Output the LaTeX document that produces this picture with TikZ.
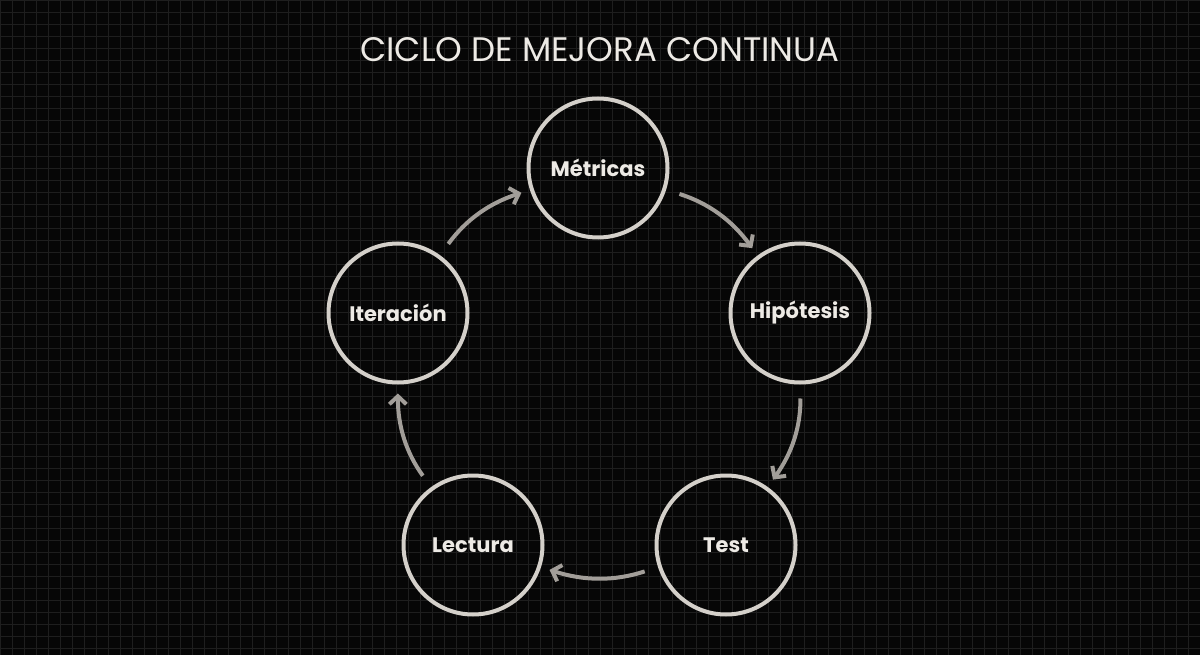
\documentclass[tikz,border=0pt]{standalone}
\usepackage{fontspec}
\setmainfont{Poppins}
\usetikzlibrary{arrows.meta}
\definecolor{bg}{HTML}{060606}
\definecolor{gridc}{HTML}{1E1E1E}
\definecolor{ring}{HTML}{D4D0CA}
\definecolor{arr}{HTML}{A29E99}
\definecolor{txt}{HTML}{EDEAE5}
\tikzset{
 stage/.style={circle,draw=ring,line width=4pt,minimum size=139pt,inner sep=0pt,text=txt,font=\fontsize{21}{24}\selectfont\bfseries},
 flow/.style={draw=arr,line width=4pt,-{Straight Barb[length=8pt,width=17pt,line width=4pt]},shorten <=14pt,shorten >=9pt}
}
\begin{document}
\begin{tikzpicture}[x=1pt,y=-1pt]
\fill[bg] (0,0) rectangle (1200,655);
\useasboundingbox (0,0) rectangle (1200,655);
\draw[gridc,line width=0.6pt,step=12pt] (0,0) grid (1200,655);
\node[text=txt,font=\fontsize{34}{38}\selectfont] (title) at (600,50) {CICLO DE MEJORA CONTINUA};
\node[stage] (m) at (598,168) {Métricas};
\node[stage] (h) at (800,313) {Hipótesis};
\node[stage] (t) at (726,545) {Test};
\node[stage] (l) at (473,545) {Lectura};
\node[stage] (i) at (398,313) {Iteración};
\draw[flow] (m) to[bend left=18] (h);
\draw[flow] (h) to[bend left=18] (t);
\draw[flow] (t) to[bend left=18] (l);
\draw[flow] (l) to[bend left=18] (i);
\draw[flow] (i) to[bend left=18] (m);
\end{tikzpicture}
\end{document}
